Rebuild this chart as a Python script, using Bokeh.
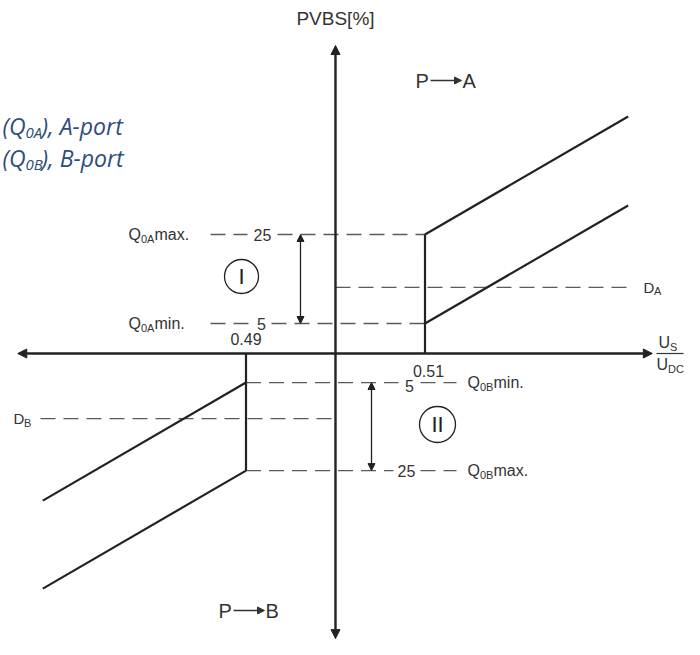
from bokeh.plotting import figure
from bokeh.models import Range1d, Arrow, NormalHead
from bokeh.core.properties import value
from bokeh.embed import file_html
from bokeh.resources import INLINE

# ---------------- data (x: U_S/U_DC, y: PVBS [%], schematic) ----------------
x_center = 0.50
x_threshold_a = 0.51
x_threshold_b = 0.49
x_end_a = 0.5327
x_end_b = 0.4673
a_upper_y = [25.0, 49.8]
a_lower_y = [6.3, 31.1]
b_upper_y = [-6.1, -30.9]
b_lower_y = [-24.6, -49.4]
q0a_levels = [6.3, 25.0]
q0a_texts = ["5", "25"]
q0b_levels = [-6.1, -24.6]
q0b_texts = ["5", "25"]
d_a_level = 13.9
d_b_level = -13.7
x_axis_span = [0.4645, 0.5354]
y_axis_span = [-59.9, 64.7]
threshold_labels = ["0.49", "0.51"]

# ---------------- layout helpers (screen placement of annotations) ----------
PX_PER_X = 8950.0
PX_PER_Y = 4.76
X0_PX, Y0_PX = 335, 353


def X(px):
    return x_center + (px - X0_PX) / PX_PER_X


def Y(py):
    return (Y0_PX - py) / PX_PER_Y


W, H = 684, 639
p = figure(width=W, height=H, output_backend="svg", toolbar_location=None,
           x_range=Range1d(X(0), X(W)), y_range=Range1d(Y(H), Y(0)),
           x_axis_location=None, y_axis_location=None, min_border=0)
p.grid.visible = False
p.outline_line_color = None
p.background_fill_color = "white"

INK = "#222222"
DASH = "#5a5a5a"
TXT = "#333333"
FONT = "Liberation Sans"


def txt(x, y, s, size, color=TXT, align="left", baseline="middle", font=FONT,
        style="normal", yoff=0):
    p.text(x=[x], y=[y], text=[s], text_font=value(font), text_font_size=f"{size}px",
           text_color=color, text_align=align, text_baseline=baseline,
           text_font_style=style, y_offset=yoff)


def dashed(x0, x1, y):
    p.line([x0, x1], [y, y], line_color=DASH, line_width=1.3, line_dash="15 8")


# ---------------- axes with arrows ----------------
p.add_layout(Arrow(x_start=x_axis_span[0], y_start=0, x_end=x_axis_span[1], y_end=0,
                   line_width=2.6, line_color=INK,
                   start=NormalHead(size=9, fill_color=INK, line_color=INK),
                   end=NormalHead(size=9, fill_color=INK, line_color=INK)))
p.add_layout(Arrow(x_start=x_center, y_start=y_axis_span[0], x_end=x_center, y_end=y_axis_span[1],
                   line_width=2.4, line_color=INK,
                   start=NormalHead(size=9, fill_color=INK, line_color=INK),
                   end=NormalHead(size=9, fill_color=INK, line_color=INK)))

# ---------------- dashed guide lines ----------------
dashed(X(210), X(247), q0a_levels[1]); dashed(X(277), x_threshold_a, q0a_levels[1])
dashed(X(210), X(251), q0a_levels[0]); dashed(X(271), x_threshold_a, q0a_levels[0])
dashed(x_threshold_b, X(398), q0b_levels[0]); dashed(X(420), X(456), q0b_levels[0])
dashed(x_threshold_b, X(393), q0b_levels[1]); dashed(X(420), X(456), q0b_levels[1])
dashed(x_center, X(630), d_a_level)
dashed(X(40), x_center, d_b_level)

# ---------------- characteristic lines ----------------
for xs, ys in [([x_threshold_a, x_threshold_a], [0, a_upper_y[0]]),
               ([x_threshold_a, x_end_a], a_upper_y),
               ([x_threshold_a, x_end_a], a_lower_y),
               ([x_threshold_b, x_threshold_b], [0, b_lower_y[0]]),
               ([x_threshold_b, x_end_b], b_upper_y),
               ([x_threshold_b, x_end_b], b_lower_y)]:
    p.line(xs, ys, line_color=INK, line_width=2.2)

# ---------------- double arrows ----------------
for xa, (y0, y1) in [(X(300), (q0a_levels[1], q0a_levels[0])),
                     (X(371), (q0b_levels[0], q0b_levels[1]))]:
    p.add_layout(Arrow(x_start=xa, y_start=y0, x_end=xa, y_end=y1, line_width=1.3,
                       line_color=INK,
                       start=NormalHead(size=7, fill_color=INK, line_color=INK),
                       end=NormalHead(size=7, fill_color=INK, line_color=INK)))

# ---------------- circles with roman numerals ----------------
p.scatter([X(241)], [Y(276)], marker="circle", size=34, fill_color=None,
          line_color=INK, line_width=1.3)
p.scatter([X(437)], [Y(424)], marker="circle", size=36, fill_color=None,
          line_color=INK, line_width=1.3)
txt(X(241), Y(276), "I", 22, color=INK, align="center")
txt(X(437), Y(424), "II", 22, color=INK, align="center")

# ---------------- level numbers ----------------
txt(X(262), q0a_levels[1], q0a_texts[1], 16, align="center")
txt(X(261), q0a_levels[0], q0a_texts[0], 16, align="center")
txt(X(409), q0b_levels[0], q0b_texts[0], 16, align="center", yoff=3)
txt(X(406), q0b_levels[1], q0b_texts[1], 16, align="center")

# ---------------- Q labels with subscripts ----------------
def qlabel(xpx, y, sub, tail):
    txt(X(xpx), y, "Q", 16)
    txt(X(xpx + 12.5), y, sub, 11, yoff=4)
    txt(X(xpx + 26), y, tail, 16)


qlabel(128, q0a_levels[1], "0A", "max.")
qlabel(128, q0a_levels[0], "0A", "min.")
qlabel(467, q0b_levels[0], "0B", "min.")
qlabel(467, q0b_levels[1], "0B", "max.")

# D labels
txt(X(643), d_a_level, "D", 15); txt(X(653.5), d_a_level, "A", 11, yoff=4)
txt(X(13), d_b_level, "D", 15); txt(X(23.5), d_b_level, "B", 11, yoff=4)

# threshold labels
txt(x_threshold_b, Y(338), threshold_labels[0], 16, align="center")
txt(X(428), Y(370), threshold_labels[1], 16, align="center")

# U_S / U_DC fraction
p.line([X(656), X(683)], [0, 0], line_color=TXT, line_width=1.2)
txt(X(658), Y(342), "U", 16); txt(X(669.5), Y(342), "S", 11, yoff=4)
txt(X(656), Y(364), "U", 16); txt(X(667.5), Y(364), "DC", 11, yoff=4)

# axis title
txt(x_center, Y(18), "PVBS[%]", 19, align="center")

# P -> A and P -> B
for xp, yp, dest in [(415, 80, "A"), (218, 610, "B")]:
    txt(X(xp), Y(yp), "P", 20)
    p.add_layout(Arrow(x_start=X(xp + 15), y_start=Y(yp), x_end=X(xp + 46), y_end=Y(yp),
                       line_width=1.3, line_color=TXT,
                       end=NormalHead(size=7, fill_color=TXT, line_color=TXT)))
    txt(X(xp + 47), Y(yp), dest, 20)

# blue italic notes
BLUE = "#2e4d80"
for ypx, sub, tail in [(125, "0A", "), A-port"), (157, "0B", "), B-port")]:
    txt(X(2), Y(ypx), "(Q", 23, color=BLUE, font="Open Sans", style="italic")
    txt(X(25), Y(ypx), sub, 15, color=BLUE, font="Open Sans", style="italic", yoff=6)
    txt(X(41), Y(ypx), tail, 23, color=BLUE, font="Open Sans", style="italic")

open("out.html", "w").write(file_html(p, INLINE))
